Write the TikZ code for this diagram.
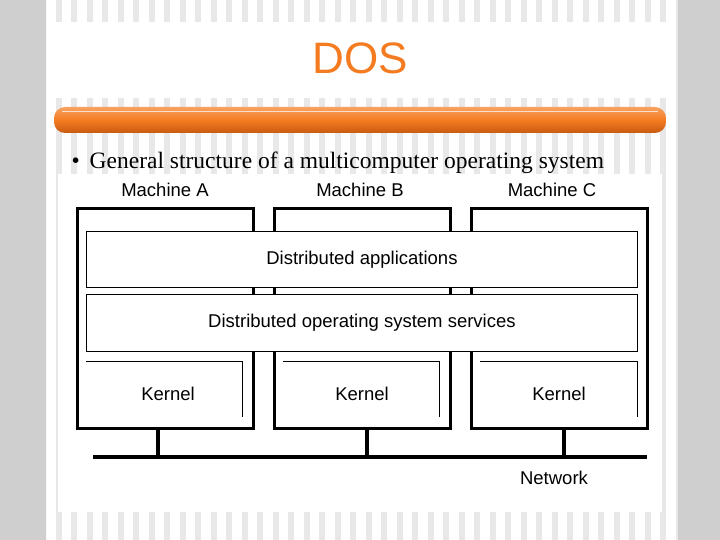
\documentclass[tikz,border=0pt]{standalone}
\usepackage{fontspec}
\setmainfont{Liberation Sans}
\newfontfamily\seriffont{Liberation Serif}
\definecolor{stripe}{HTML}{E8E8E8}
\definecolor{side}{HTML}{CFCFCF}
\definecolor{orng}{HTML}{F47B20}
\definecolor{orngd}{HTML}{C85A10}
\begin{document}
\begin{tikzpicture}[x=1pt,y=-1pt,
  machine/.style={draw,line width=3pt},
  layer/.style={draw,fill=white,line width=0.9pt,minimum width=551,anchor=north west,inner sep=0pt,font=\fontsize{18.5}{22}\selectfont},
  lbl/.style={font=\fontsize{18.5}{22}\selectfont},
  thin/.style={line width=0.9pt},
  net/.style={line width=3.6pt}]
\useasboundingbox (0,0) rectangle (720,540);
\fill[white] (0,0) rectangle (720,540);
% stripes
\foreach \i in {0,...,42} {\fill[stripe] (40+\i*15.5,0) rectangle (46+\i*15.5,540);}
\fill[white] (48,22) rectangle (676,98);
\fill[white] (58,174) rectangle (662,512);
% side bands
\fill[side] (0,0) rectangle (30,540);
\fill[side,rounded corners=14pt] (12,-20) rectangle (46,560);
\fill[side] (690,0) rectangle (720,540);
\fill[side,rounded corners=14pt] (678,-20) rectangle (708,560);
% title
\node[text=orng,font=\fontsize{44}{48}\selectfont] (title) at (360,58) {DOS};
\shade[top color=orng!70!white,bottom color=orngd,middle color=orng,rounded corners=11pt] (54,107) rectangle (666,133);
\draw[white,line width=0.8pt,opacity=0.7] (62,111) -- (658,111);
\node[anchor=west,font=\seriffont\fontsize{23.5}{26}\selectfont] (bullet) at (68,163) {•\hspace{10pt}General structure of a multicomputer operating system};
% machines
\node[lbl] (ma) at (165,190) {Machine A};
\node[lbl] (mb) at (360,190) {Machine B};
\node[lbl] (mc) at (552,190) {Machine C};
\draw[machine] (77,209) rectangle (253,428);
\draw[machine] (274,209) rectangle (450,428);
\draw[machine] (471,209) rectangle (647,428);
\node[layer,minimum height=56] (apps) at (86,231) {Distributed applications};
\node[layer,minimum height=57] (svc) at (86,294) {Distributed operating system services};
\draw[thin] (86,361) -- (242,361) -- (242,417);
\draw[thin] (283,361) -- (439,361) -- (439,417);
\draw[thin] (480,361) -- (637,361) -- (637,417);
\node[lbl] (ka) at (168,394) {Kernel};
\node[lbl] (kb) at (362,394) {Kernel};
\node[lbl] (kc) at (559,394) {Kernel};
\coordinate (nl) at (93,457);
\coordinate (nr) at (647,457);
\draw[net] (nl) -- (nr);
\draw[net] (158,428) -- (158,457);
\draw[net] (367,428) -- (367,457);
\draw[net] (564,428) -- (564,457);
\node[lbl] (netw) at (554,478) {Network};
\end{tikzpicture}
\end{document}
